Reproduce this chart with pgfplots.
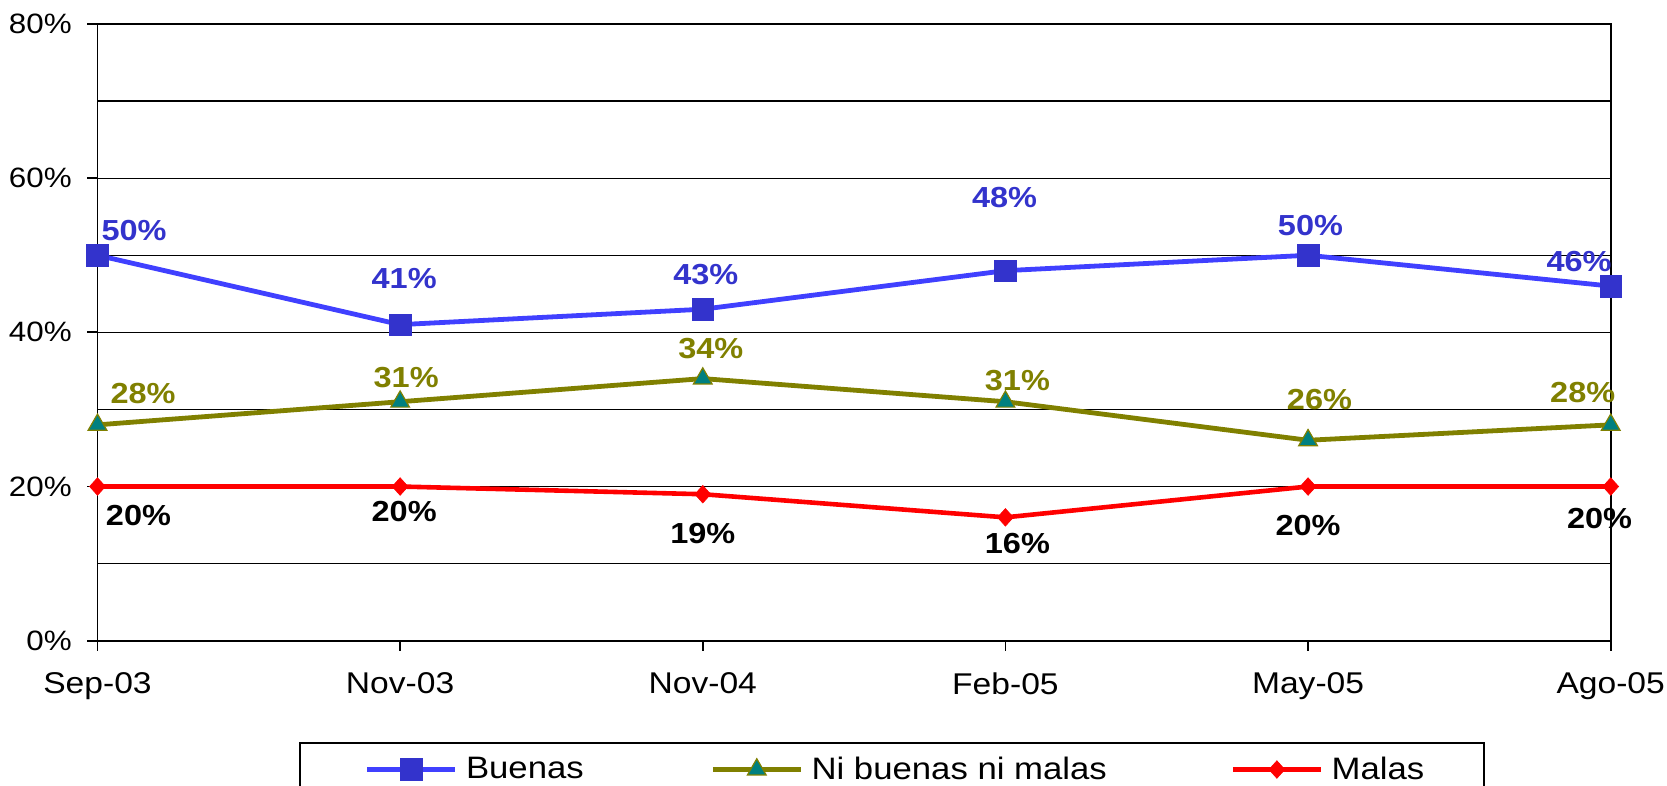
\documentclass[border=0pt]{standalone}
\usepackage{fontspec}
\setmainfont{Liberation Sans}[FakeStretch=1.12]
\usepackage{pgfplots}
\usepackage{pgfplotstable}
\pgfplotsset{compat=1.18}
\definecolor{bline}{RGB}{64,64,255}
\definecolor{bmark}{RGB}{51,51,204}
\definecolor{myolive}{RGB}{128,128,0}
\definecolor{myteal}{RGB}{0,128,128}
\definecolor{myred}{RGB}{255,0,0}

\pgfplotstableread{
x y dx dy
0 50 18.3 12.5
1 41 2 23
2 43 1.5 17.5
3 48 -0.4 36.5
4 50 1.2 15
5 46 -15.8 12.5
}\buenas
\pgfplotstableread{
x y dx dy
0 28 22.8 15.5
1 31 3 12
2 34 4 14.8
3 31 6 10.8
4 26 5.7 20.3
5 28 -14 16.3
}\nibuenas
\pgfplotstableread{
x y dx dy
0 20 20.5 -14.3
1 20 2 -12.5
2 19 0 -19.4
3 16 6 -13
4 20 0 -19.3
5 20 -5.6 -15.8
}\malas

\begin{document}
\begin{tikzpicture}
\begin{axis}[
  scale only axis, width=756.6pt, height=308.35pt,
  xmin=0, xmax=5, ymin=0, ymax=80,
  xtick={0,1,2,3,4,5},
  xticklabels={Sep-03,Nov-03,Nov-04,Feb-05,May-05,Ago-05},
  ytick={0,20,40,60,80},
  yticklabels={0\%,20\%,40\%,60\%,80\%},
  minor ytick={10,30,50,70},
  ymajorgrids, yminorgrids,
  grid style={black, line width=0.6pt},
  minor grid style={black, line width=0.6pt},
  tick align=outside, xtick pos=bottom, ytick pos=left,
  major tick length=5pt, minor tick length=0pt,
  axis line style={black, line width=0.9pt},
  every tick/.style={black, line width=0.9pt},
  xticklabel style={font=\fontsize{15}{18}\selectfont, inner sep=0pt, anchor=north, yshift=-10.7pt},
  yticklabel style={font=\fontsize{14}{16}\selectfont, inner sep=0pt, anchor=east, xshift=-7.7pt},
  /pgf/number format/assume math mode=true,
  clip=false,
  legend columns=3,
  legend style={at={(0.13336,-0.16475)}, anchor=north west, draw=black,
    line width=0.7pt, inner xsep=32.4pt, inner ysep=6.9pt, column sep=4.2pt,
    font=\fontsize{15.5}{18}\selectfont, nodes={inner sep=0pt}},
  legend cell align=left,
  legend image code/.code={\draw[mark repeat=2,mark phase=2,#1] plot coordinates {(0pt,0pt) (22pt,0pt) (44pt,0pt)};},
  nodes near coords={\pgfmathprintnumber{\pgfplotspointmeta}\%},
  visualization depends on={\thisrow{dx} \as \dx},
  visualization depends on={\thisrow{dy} \as \dy},
]
\addplot[bline, line width=2.4pt, mark=square*, mark size=5.4pt,
  mark options={fill=bmark, draw=bmark, line width=0.3pt},
  every node near coord/.append style={anchor=center, xshift=\dx pt, yshift=\dy pt,
    font=\fontsize{14.5}{17}\selectfont\bfseries, text=bmark}]
  table[x=x,y=y] {\buenas};
\addlegendentry{\makebox[118pt][l]{Buenas}}
\addplot[myolive, line width=2.4pt, mark=triangle*, mark size=5.4pt,
  mark options={fill=myteal, draw=myolive, line width=0.6pt},
  every node near coord/.append style={anchor=center, xshift=\dx pt, yshift=\dy pt,
    font=\fontsize{14.5}{17}\selectfont\bfseries, text=myolive}]
  table[x=x,y=y] {\nibuenas};
\addlegendentry{\makebox[205.3pt][l]{Ni buenas ni malas}}
\addplot[myred, line width=2.3pt, mark=diamond*, mark size=4.4pt,
  mark options={fill=myred, draw=myred, line width=0.3pt, xscale=1.2},
  every node near coord/.append style={anchor=center, xshift=\dx pt, yshift=\dy pt,
    font=\fontsize{14.5}{17}\selectfont\bfseries, text=black}]
  table[x=x,y=y] {\malas};
\addlegendentry{\makebox[43.7pt][l]{Malas}}
\end{axis}
\pgfresetboundingbox
\useasboundingbox (-48.75pt,-72.65pt) rectangle (784.75pt,320.35pt);
\end{tikzpicture}
\end{document}
